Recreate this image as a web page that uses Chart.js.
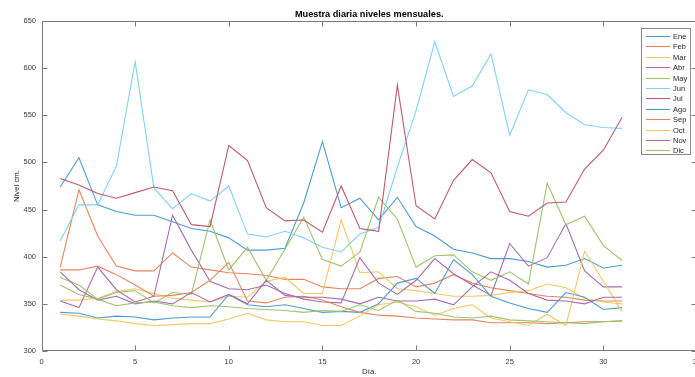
<!DOCTYPE html>
<html>
<head>
<meta charset="utf-8">
<script src="https://cdn.jsdelivr.net/npm/chart.js@4.4.1/dist/chart.umd.min.js"></script>
<style>
  html, body { margin: 0; padding: 0; background: #fff; overflow: hidden; }
  #wrap { width: 712px; height: 377px; }
</style>
</head>
<body>
<div id="wrap"><canvas id="c" width="712" height="377"></canvas></div>
<script>
// Daily water level samples (cm) for each month
const days = Array.from({ length: 31 }, (_, i) => i + 1);
const monthNames = ['Ene', 'Feb', 'Mar', 'Abr', 'May', 'Jun', 'Jul', 'Ago', 'Sep', 'Oct', 'Nov', 'Dic'];

const ene = [474,505,455,448,444,444,437,430,427,420,407,407,409,457,522,452,462,439,463,432,422,408,404,398,398,395,389,391,398,388,391];
const feb = [389,471,422,390,385,385,404,389,386,383,382,380,376,376,368,366,366,377,379,368,372,381,372,367,364,361,358,357,354,353,353];
const mar = [354,354,356,363,366,361,356,354,352,358,357,374,378,361,361,439,383,384,366,364,361,358,358,359,362,364,371,367,356,352,350];
const abr = [353,346,389,365,352,358,444,407,374,366,365,370,361,355,352,351,399,372,360,375,398,382,370,359,414,390,399,435,385,368,368];
const may = [378,370,355,362,364,351,362,360,439,386,410,375,408,442,397,390,405,463,440,389,401,402,384,375,384,371,478,434,443,412,396];
const jun = [417,455,455,496,607,473,451,467,459,475,424,421,427,420,410,405,424,431,495,555,628,570,581,615,529,577,572,553,540,537,536];
const jul = [483,476,467,462,468,474,470,434,432,518,502,452,438,439,426,475,430,427,582,454,440,481,503,489,448,443,457,458,493,513,548];
const ago = [341,340,335,337,336,333,335,336,336,360,349,347,349,345,341,342,341,350,372,377,361,397,381,358,351,345,341,362,357,344,346];
const sep = [386,386,390,381,370,358,359,362,375,394,353,351,357,358,354,347,341,338,337,335,334,333,333,330,330,330,329,330,331,331,332];
const oct = [339,337,334,332,329,327,328,329,329,334,340,333,331,331,327,327,337,349,352,347,338,345,349,335,331,327,339,327,406,374,342];
const nov = [384,365,354,358,350,353,350,362,352,360,350,375,359,357,357,355,350,357,353,353,355,349,368,384,375,361,354,353,350,357,357];
const dic = [370,360,355,348,351,352,348,346,348,347,345,344,343,341,343,342,349,343,354,342,340,336,335,337,333,332,331,330,329,331,332];

const xTicks = [0, 5, 10, 15, 20, 25, 30, 35];
const yTicks = [300, 350, 400, 450, 500, 550, 600, 650];
const chartTitle = 'Muestra diaria niveles mensuales.';

const series = [ene, feb, mar, abr, may, jun, jul, ago, sep, oct, nov, dic];
// seven-colour cycle, softened
const palette = ['#4d9cd1', '#e4865e', '#f2c862', '#a46db0', '#9fc46e', '#82d1f3', '#bd5a6d'];

const datasets = series.map((vals, i) => ({
  label: monthNames[i],
  data: days.map((d, k) => ({ x: d, y: vals[k] })),
  borderColor: palette[i % palette.length],
  backgroundColor: palette[i % palette.length],
  borderWidth: 1.1,
  pointRadius: 0,
  tension: 0,
  fill: false,
  order: series.length - i
}));

const FONT = "'Liberation Sans', Arial, Helvetica, sans-serif";
const AXIS_COLOR = '#7a7a7a';
const LABEL_COLOR = '#3a3a3a';

// frame box with inward tick marks on all four sides, title over the plot, boxed legend
const framePlugin = {
  id: 'frameBox',
  afterDatasetsDraw(chart) {
    const { ctx, chartArea: a, scales: { x, y } } = chart;
    const L = Math.round(a.left) + 0.5, R = Math.round(a.right) - 0.5;
    const T = Math.round(a.top) + 0.5, B = Math.round(a.bottom) - 0.5;
    const tl = 5;
    ctx.save();
    ctx.strokeStyle = AXIS_COLOR;
    ctx.lineWidth = 1;
    ctx.beginPath();
    ctx.rect(L, T, R - L, B - T);
    x.ticks.forEach(t => {
      const px = Math.round(x.getPixelForValue(t.value)) + 0.5;
      ctx.moveTo(px, B); ctx.lineTo(px, B - tl);
      ctx.moveTo(px, T); ctx.lineTo(px, T + tl);
    });
    y.ticks.forEach(t => {
      const py = Math.round(y.getPixelForValue(t.value)) + 0.5;
      ctx.moveTo(L, py); ctx.lineTo(L + tl, py);
      ctx.moveTo(R, py); ctx.lineTo(R - tl, py);
    });
    ctx.stroke();
    ctx.restore();
  },
  afterDraw(chart) {
    const { ctx, chartArea: a } = chart;
    ctx.save();
    // title centred over the plot box
    ctx.fillStyle = '#000';
    ctx.font = 'bold 9.2px ' + FONT;
    ctx.textAlign = 'center';
    ctx.textBaseline = 'middle';
    ctx.fillText(chartTitle, (a.left + a.right) / 2, 14);

    const bx = 641.5, by = 28.5, bw = 49, bh = 126;
    const row0 = 36, step = 10.4;
    ctx.fillStyle = '#ffffff';
    ctx.fillRect(bx, by, bw, bh);
    ctx.strokeStyle = '#8a8a8a';
    ctx.lineWidth = 1;
    ctx.strokeRect(bx, by, bw, bh);
    ctx.font = '7.5px ' + FONT;
    ctx.textBaseline = 'middle';
    ctx.textAlign = 'left';
    chart.data.datasets.forEach((ds, i) => {
      const yy = Math.round(row0 + i * step) + 0.5;
      ctx.strokeStyle = ds.borderColor;
      ctx.lineWidth = 1.1;
      ctx.beginPath();
      ctx.moveTo(646, yy);
      ctx.lineTo(670, yy);
      ctx.stroke();
      ctx.fillStyle = '#262626';
      ctx.fillText(ds.label, 673, yy);
    });
    ctx.restore();
  }
};

new Chart(document.getElementById('c'), {
  type: 'line',
  data: { datasets },
  plugins: [framePlugin],
  options: {
    responsive: false,
    animation: false,
    devicePixelRatio: 1,
    layout: { padding: { left: 0, right: 15, top: 21, bottom: 0 } },
    plugins: {
      legend: { display: false },
      tooltip: { enabled: false },
      title: { display: false }
    },
    scales: {
      x: {
        type: 'linear',
        min: 0,
        max: 35,
        afterBuildTicks: s => { s.ticks = xTicks.map(v => ({ value: v })); },
        afterFit: s => { s.height = 26; },
        grid: { display: false, drawTicks: false },
        border: { display: false },
        ticks: { color: LABEL_COLOR, font: { family: FONT, size: 7.5 }, padding: 6, autoSkip: false, maxRotation: 0 },
        title: {
          display: true,
          text: 'Día.',
          color: '#262626',
          font: { family: FONT, size: 7.8, lineHeight: 1.2 },
          padding: { top: 0, bottom: 0.5 }
        }
      },
      y: {
        type: 'linear',
        min: 300,
        max: 650,
        afterBuildTicks: s => { s.ticks = yTicks.map(v => ({ value: v })); },
        afterFit: s => { s.width = 41.5; },
        grid: { display: false, drawTicks: false },
        border: { display: false },
        ticks: { color: LABEL_COLOR, font: { family: FONT, size: 7.5 }, padding: 5.5, autoSkip: false },
        title: {
          display: true,
          text: 'Nivel cm.',
          color: '#262626',
          font: { family: FONT, size: 7.8, lineHeight: 1.2 },
          padding: { top: 12, bottom: 0 }
        }
      }
    }
  }
});
</script>
</body>
</html>
